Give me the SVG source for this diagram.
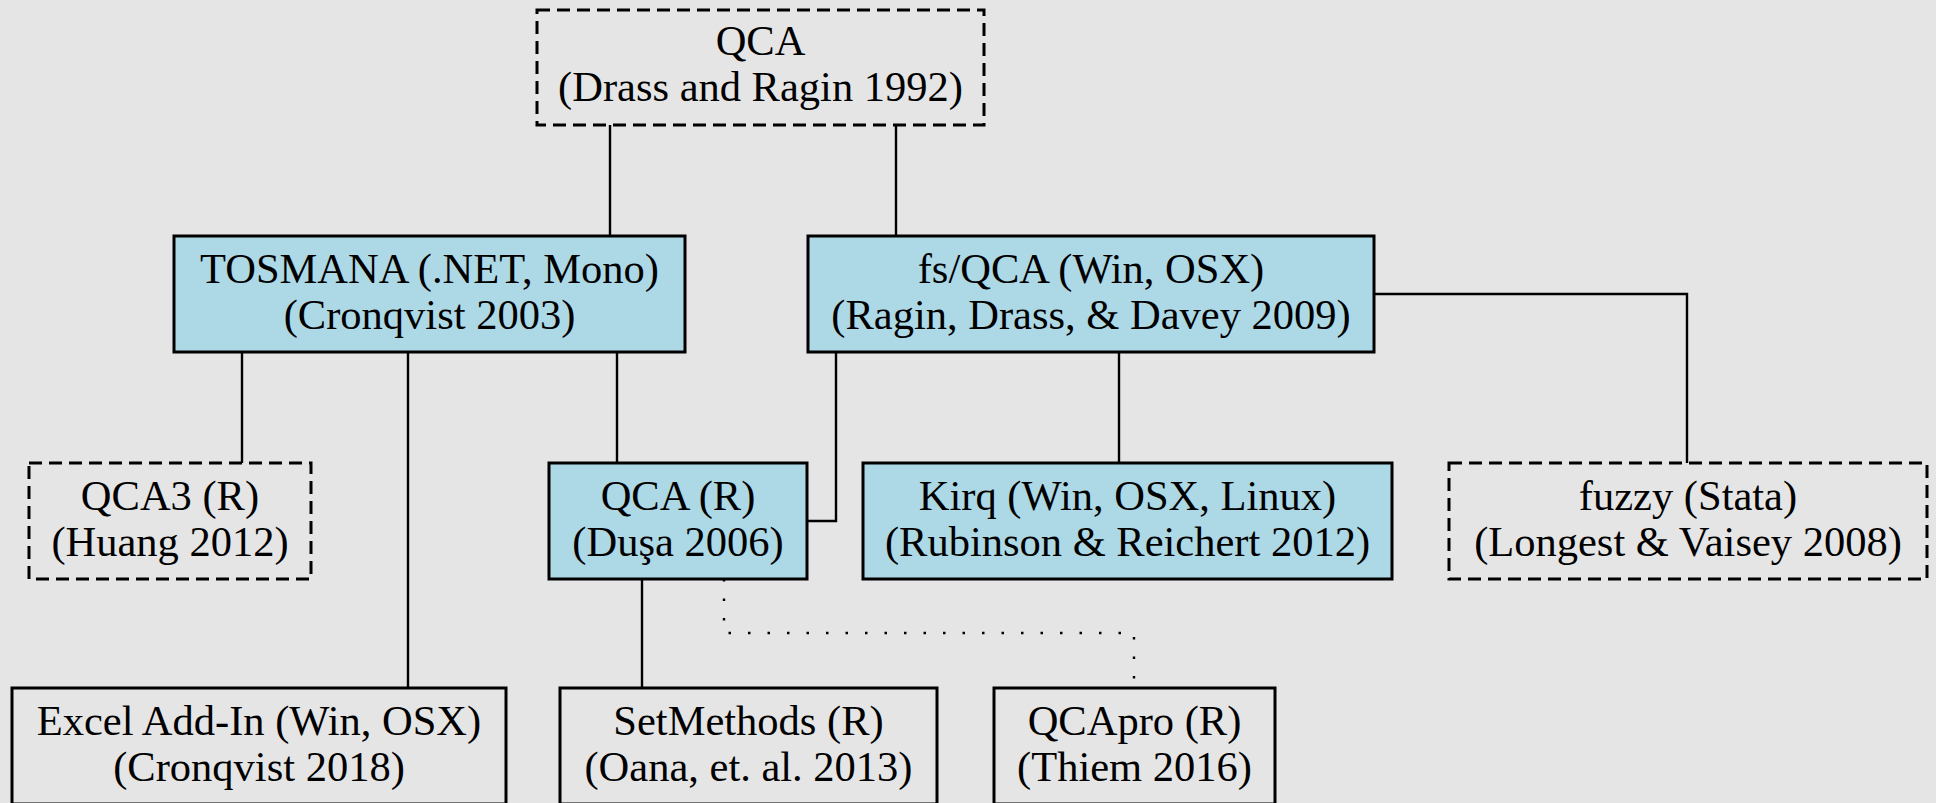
<svg xmlns="http://www.w3.org/2000/svg" width="1936" height="803" viewBox="0 0 1936 803">
<style>
.bg{fill:#e5e5e5}
.box{stroke:#000;stroke-width:3}
.solid{fill:#e5e5e5}
.blue{fill:#add8e6}
.dash{fill:#e5e5e5;stroke-dasharray:13 7}
text{font-family:"Liberation Serif","Times New Roman",serif;font-size:42.5px;fill:#000;text-anchor:middle}
.c{fill:none;stroke:#000;stroke-width:2.4}
.dot{stroke-dasharray:2.5 17}
</style>
<rect class="bg" width="1936" height="803"/>
<g id="connectors">
<path class="c" d="M610 125V236"/>
<path class="c" d="M896 125V236"/>
<path class="c" d="M242 352V463"/>
<path class="c" d="M408 352V688"/>
<path class="c" d="M617 352V463"/>
<path class="c" d="M836 352V521H807"/>
<path class="c" d="M1119 352V463"/>
<path class="c" d="M1374 294H1687V463"/>
<path class="c" d="M642 579V688"/>
<path class="c dot" d="M724 579V633H1134V688"/>
</g>
<g id="n-qca">
<rect class="box dash" x="537" y="10" width="447" height="115"/>
<text x="760.5" y="55">QCA</text>
<text x="760.5" y="101">(Drass and Ragin 1992)</text>
</g>
<g id="n-tosmana">
<rect class="box blue" x="174" y="236" width="511" height="116"/>
<text x="429.5" y="283">TOSMANA (.NET, Mono)</text>
<text x="429.5" y="329">(Cronqvist 2003)</text>
</g>
<g id="n-fsqca">
<rect class="box blue" x="808" y="236" width="566" height="116"/>
<text x="1091" y="283">fs/QCA (Win, OSX)</text>
<text x="1091" y="329">(Ragin, Drass, &amp; Davey 2009)</text>
</g>
<g id="n-qca3">
<rect class="box dash" x="29" y="463" width="282" height="116"/>
<text x="170" y="510">QCA3 (R)</text>
<text x="170" y="556">(Huang 2012)</text>
</g>
<g id="n-qcar">
<rect class="box blue" x="549" y="463" width="258" height="116"/>
<text x="678" y="510">QCA (R)</text>
<text x="678" y="556">(Duşa 2006)</text>
</g>
<g id="n-kirq">
<rect class="box blue" x="863" y="463" width="529" height="116"/>
<text x="1127.5" y="510">Kirq (Win, OSX, Linux)</text>
<text x="1127.5" y="556">(Rubinson &amp; Reichert 2012)</text>
</g>
<g id="n-fuzzy">
<rect class="box dash" x="1449" y="463" width="478" height="116"/>
<text x="1688" y="510">fuzzy (Stata)</text>
<text x="1688" y="556">(Longest &amp; Vaisey 2008)</text>
</g>
<g id="n-excel">
<rect class="box solid" x="12" y="688" width="494" height="116"/>
<text x="259" y="735">Excel Add-In (Win, OSX)</text>
<text x="259" y="781">(Cronqvist 2018)</text>
</g>
<g id="n-setmethods">
<rect class="box solid" x="560" y="688" width="377" height="116"/>
<text x="748.5" y="735">SetMethods (R)</text>
<text x="748.5" y="781">(Oana, et. al. 2013)</text>
</g>
<g id="n-qcapro">
<rect class="box solid" x="994" y="688" width="281" height="116"/>
<text x="1134.5" y="735">QCApro (R)</text>
<text x="1134.5" y="781">(Thiem 2016)</text>
</g>
</svg>
